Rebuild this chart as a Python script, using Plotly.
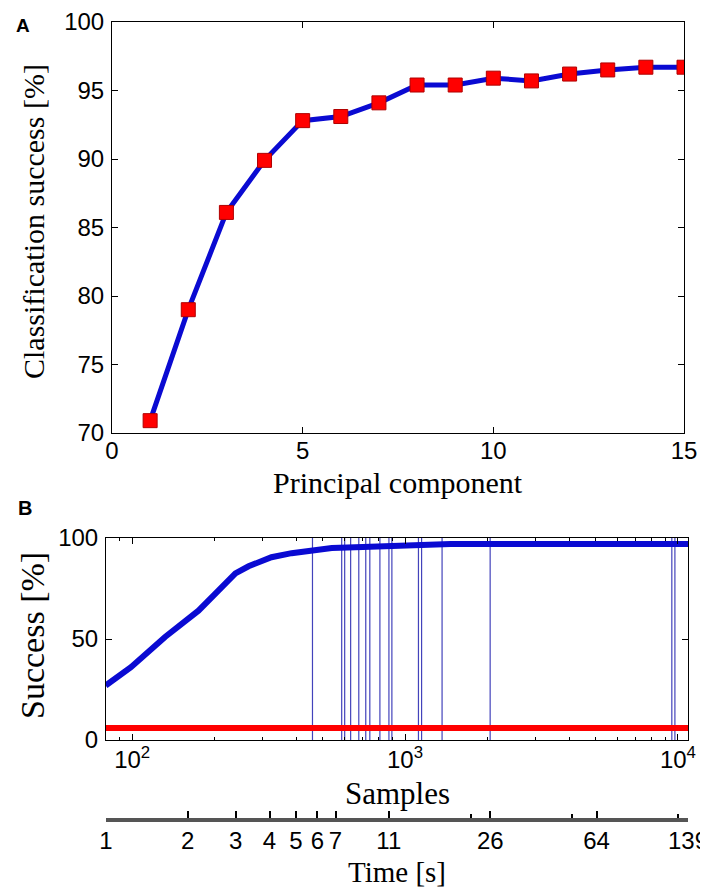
import math
import plotly.graph_objects as go

# ---------------- data ----------------
# Panel A
pc = list(range(1, 16))
class_success = [70.9, 79.0, 86.1, 89.9, 92.8, 93.1, 94.1, 95.4, 95.4, 95.9, 95.7, 96.2, 96.5, 96.7, 96.7]

# Panel B
samples = [80, 99, 132, 175, 207, 239, 267, 324, 384, 455, 539, 700, 1000, 1200, 1440, 1470, 10890]
success = [27, 36, 51, 64, 74, 82.5, 86, 90.5, 92.5, 94, 95, 95.5, 96, 96.2, 96.5, 97, 97]
chance_x = [80, 10890]
chance_y = [6, 6]
event_samples = [458, 586, 601, 632, 677, 718, 743, 809, 873, 895, 1120, 1150, 1367, 2051, 9500, 9750]

time_ticks = [1, 2, 3, 4, 5, 6, 7, 11, 26, 64, 139]
time_labels = ["1", "2", "3", "4", "5", "6", "7", "11", "26", "64", "139"]
time_minor = [22, 52, 128]

# ---------------- layout helpers ----------------
W, H = 708, 889
def px_x(p): return p / W
def px_y(p): return 1 - p / H

BLUE = "#0a0ad2"
RED = "#ff0000"
SANS = "Liberation Sans, Arial, sans-serif"
SERIF = "Liberation Serif, Times New Roman, serif"
TICKF = dict(family=SANS, size=24, color="black")

fig = go.Figure()

# Panel A
fig.add_trace(go.Scatter(
    x=pc, y=class_success, mode="lines+markers", xaxis="x", yaxis="y",
    line=dict(color=BLUE, width=5),
    marker=dict(symbol="square", size=14, color=RED, line=dict(color="#b00000", width=1)),
    showlegend=False, hoverinfo="x+y"))

# Panel B: event lines
vx, vy = [], []
for s in event_samples:
    vx += [s, s, None]
    vy += [0, 100, None]
fig.add_trace(go.Scatter(x=vx, y=vy, mode="lines", xaxis="x2", yaxis="y2",
                         line=dict(color="rgba(20,20,170,0.8)", width=1.2),
                         showlegend=False, hoverinfo="skip"))
fig.add_trace(go.Scatter(x=chance_x, y=chance_y, mode="lines", xaxis="x2", yaxis="y2",
                         line=dict(color=RED, width=6), showlegend=False))
fig.add_trace(go.Scatter(x=samples, y=success, mode="lines", xaxis="x2", yaxis="y2",
                         line=dict(color=BLUE, width=6), showlegend=False))
# invisible trace to activate the time axis
fig.add_trace(go.Scatter(x=[time_ticks[0], time_ticks[-1]], y=[-50, -50], mode="lines",
                         xaxis="x3", yaxis="y2", line=dict(width=0),
                         showlegend=False, hoverinfo="skip"))

frame = dict(showline=True, linecolor="black", linewidth=1, mirror="ticks",
             ticks="inside", ticklen=6, tickcolor="black", showgrid=False,
             zeroline=False, tickfont=TICKF, automargin=False, ticklabeloverflow="allow")

def ann(text, x, y, size, family=SERIF, angle=0, bold=False):
    return dict(text=f"<b>{text}</b>" if bold else text, x=px_x(x), y=px_y(y),
                xref="paper", yref="paper", xanchor="center", yanchor="middle",
                showarrow=False, textangle=angle,
                font=dict(family=family, size=size, color="black"))

fig.update_layout(
    width=W, height=H, margin=dict(l=0, r=0, t=0, b=0),
    paper_bgcolor="white", plot_bgcolor="white", showlegend=False,
    xaxis=dict(domain=[px_x(104), px_x(676)], range=[0, 15], tickvals=[0, 5, 10, 15],
               anchor="y", ticklabelstandoff=-4, **frame),
    yaxis=dict(domain=[px_y(425), px_y(14)], range=[70, 100], tickvals=[70, 75, 80, 85, 90, 95, 100],
               anchor="x", ticklabelstandoff=2, **frame),
    xaxis2=dict(domain=[px_x(98), px_x(680)], type="log",
                range=[math.log10(80.2), math.log10(10890)],
                tickvals=[100, 1000, 10000], ticktext=["10<sup>2</sup>", "10<sup>3</sup>", "10<sup>4</sup>"],
                minor=dict(ticks="inside", ticklen=3, tickcolor="black",
                           tickvals=[90, 200, 300, 400, 500, 600, 700, 800, 900,
                                     2000, 3000, 4000, 5000, 6000, 7000, 8000, 9000]),
                anchor="y2", ticklabelstandoff=-2, **frame),
    yaxis2=dict(domain=[px_y(732), px_y(530)], range=[0, 100], tickvals=[0, 50, 100],
                anchor="x2", ticklabelstandoff=2, **frame),
    xaxis3=dict(overlaying="x2", anchor="free", position=px_y(812), type="log",
                range=[0, math.log10(139)], tickvals=time_ticks, ticktext=time_labels,
                minor=dict(ticks="inside", ticklen=4, tickcolor="black", tickvals=time_minor),
                showline=True, linecolor="#555555", linewidth=4, ticks="inside", ticklen=7,
                tickwidth=1.5, tickcolor="black", showgrid=False, zeroline=False,
                tickfont=dict(TICKF, size=24), automargin=False, ticklabeloverflow="allow",
                ticklabelstandoff=-2),
    annotations=[
        ann("A", 15, 18, 19, family=SANS, bold=True),
        ann("B", 17, 500, 20, family=SANS, bold=True),
        ann("Classification success [%]", 25, 214, 30, angle=-90),
        ann("Principal component", 390, 474, 30),
        ann("Success [%]", 24, 628, 34, angle=-90),
        ann("Samples", 389, 785, 31),
        ann("Time [s]", 389, 864, 29),
    ],
)

fig.write_html("out.html")
